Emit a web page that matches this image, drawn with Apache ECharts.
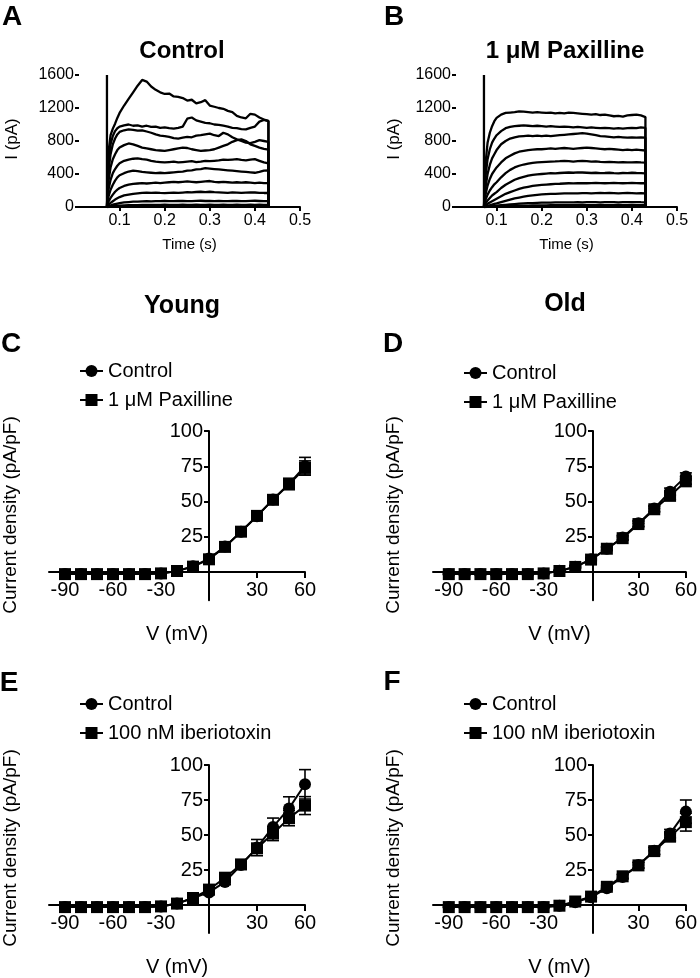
<!DOCTYPE html>
<html>
<head>
<meta charset="utf-8">
<script src="https://cdn.jsdelivr.net/npm/echarts@6.0.0/dist/echarts.min.js"></script>
<style>
html,body{margin:0;padding:0;background:#fff;}
#c{width:700px;height:978px;}
</style>
</head>
<body>
<div id="c"></div>
<script>
// ---------- Panel A/B: current traces ----------
const onTime = 0.072;
const offTime = 0.43;
const traceTime = [0.072,0.075,0.08,0.085,0.09,0.095,0.10,0.11,0.12,0.13,0.14,0.15,0.16,0.17,0.18,0.19,0.20,0.21,0.22,0.23,0.24,0.25,0.26,0.27,0.28,0.29,0.30,0.31,0.32,0.33,0.34,0.35,0.36,0.37,0.38,0.39,0.40,0.41,0.42,0.43];
const timeTicks = [0.1,0.2,0.3,0.4,0.5];
const currentTicks = [0,400,800,1200,1600];

const controlTraces = [
  [0,650,870,950,1010,1080,1140,1230,1310,1390,1470,1540,1520,1460,1420,1390,1370,1375,1340,1335,1320,1290,1300,1255,1270,1295,1230,1215,1200,1190,1165,1150,1105,1085,1075,1130,1120,1085,1060,1045],
  [0,500,760,860,920,955,975,990,1000,985,990,975,985,970,975,960,965,955,950,960,975,1070,1085,1050,1035,1020,1015,1000,995,985,975,960,955,945,940,960,975,1035,1055,1040],
  [0,420,640,760,830,880,910,930,940,935,925,930,915,900,880,865,860,850,835,830,840,850,845,865,870,880,890,870,860,900,880,845,820,800,780,775,790,810,800,790],
  [0,300,480,580,640,690,720,750,770,760,740,720,710,700,690,685,680,690,700,710,720,715,700,690,680,685,690,700,720,740,760,790,810,820,800,760,740,720,705,695],
  [0,200,330,410,460,500,530,560,575,585,590,580,575,560,550,545,540,545,550,540,545,550,555,545,550,560,555,560,565,575,570,575,580,570,565,575,580,560,540,530],
  [0,120,210,270,320,360,385,410,430,440,435,425,420,415,410,415,410,415,420,425,430,440,445,455,460,470,465,460,455,450,445,440,435,430,425,420,415,425,440,445],
  [0,60,110,150,185,210,230,255,270,280,285,290,285,290,295,290,295,300,305,300,305,310,305,300,305,310,315,305,300,305,300,295,300,295,300,295,290,295,290,290],
  [0,25,50,70,90,105,120,140,150,160,165,170,175,170,175,170,168,172,175,170,175,180,178,182,185,180,185,180,178,175,172,178,175,170,175,178,176,172,170,170],
  [0,8,18,28,36,42,48,55,60,64,66,68,70,68,72,70,74,72,70,73,75,72,70,74,76,73,75,72,74,70,72,75,73,70,72,74,76,73,70,72],
  [0,3,6,10,13,15,17,19,21,22,23,24,25,24,26,25,27,25,24,26,28,25,26,27,25,26,28,26,25,27,26,25,27,26,25,27,26,28,26,25],
  [0,1,2,3,3,4,4,5,5,4,5,6,5,4,6,5,5,6,4,5,6,5,4,5,6,5,5,4,6,5,5,6,4,5,6,5,5,4,6,5]
];
const paxillineTraces = [
  [0,500,780,900,980,1040,1080,1120,1140,1145,1150,1160,1155,1150,1145,1150,1145,1140,1145,1135,1140,1135,1145,1140,1135,1130,1125,1120,1125,1115,1120,1110,1100,1105,1095,1110,1115,1120,1110,1090],
  [0,350,580,700,780,830,870,920,955,970,980,985,990,985,980,985,980,975,980,975,970,975,970,965,970,965,960,965,960,955,960,955,950,955,950,955,960,955,965,960],
  [0,220,400,510,590,640,690,760,800,830,845,855,860,865,860,865,860,865,860,865,870,875,880,885,890,895,890,880,870,860,855,850,845,850,845,840,845,840,845,840],
  [0,140,260,340,400,440,480,540,590,620,650,670,680,690,695,700,700,705,710,705,710,715,710,705,710,715,720,715,710,705,700,705,700,695,690,695,690,695,690,685],
  [0,80,150,200,240,275,300,360,410,450,480,500,515,525,535,540,545,548,550,552,555,560,555,550,555,558,555,550,552,548,545,548,545,540,545,542,540,545,540,538],
  [0,40,80,110,140,160,180,230,270,300,330,350,365,380,390,395,400,405,410,408,412,415,418,415,420,418,415,412,415,410,412,415,410,408,412,410,415,412,410,408],
  [0,20,40,55,70,85,100,130,160,180,200,220,235,245,255,262,268,272,276,280,282,285,288,286,288,290,288,290,292,290,288,290,292,290,288,290,292,290,288,290],
  [0,8,15,22,30,38,45,60,75,90,105,115,125,135,142,148,152,156,158,160,162,164,165,166,165,167,168,166,168,170,168,170,168,166,168,170,168,166,168,165],
  [0,2,5,8,11,14,17,22,27,32,36,40,43,46,48,50,52,53,54,55,56,57,56,57,58,57,58,59,58,57,58,59,58,57,58,59,58,60,58,57],
  [0,1,2,3,4,5,6,8,10,12,13,15,16,17,18,19,20,20,21,21,22,22,23,22,23,24,23,22,23,24,23,22,23,24,23,22,24,23,22,23],
  [0,0,1,1,1,2,2,2,3,3,3,4,4,4,4,5,5,5,4,5,5,6,5,5,4,5,6,5,5,4,5,5,6,5,5,4,5,5,6,5]
];
const transientPeak = 1600;

// ---------- Panels C-F: I-V curves ----------
const voltage = [-90,-80,-70,-60,-50,-40,-30,-20,-10,0,10,20,30,40,50,60];
const vTicks = [-90,-60,-30,30,60];
const densityTicks = [25,50,75,100];

const youngControlPax = [-1.5,-1.5,-1.5,-1.5,-1.5,-1.5,-1,0.7,4,9.5,18,28.5,39.5,51.5,62.5,75];
const youngControlPaxSem = [0.3,0.3,0.3,0.3,0.3,0.3,0.3,0.4,0.8,1.2,1.5,2,2.5,3,4,6.3];
const youngPaxilline = [-1.5,-1.5,-1.5,-1.5,-1.5,-1.5,-1,0.7,3.8,9,17.8,28.6,39.8,51.2,62.2,73.8];
const youngPaxillineSem = [0.3,0.3,0.3,0.3,0.3,0.3,0.3,0.4,0.8,1.2,1.5,2,2.5,3,3.5,5];

const oldControlPax = [-1.5,-1.5,-1.5,-1.5,-1.5,-1.5,-1,0.8,3.8,9,16.5,24.5,34.5,45,57,67.8];
const oldControlPaxSem = [0.3,0.3,0.3,0.3,0.3,0.3,0.3,0.4,0.8,1,1.2,1.5,2,2,2.5,2.5];
const oldPaxilline = [-1.5,-1.5,-1.5,-1.5,-1.5,-1.5,-1,0.7,3.6,8.8,16.5,24,34,44.5,54,64.3];
const oldPaxillineSem = [0.3,0.3,0.3,0.3,0.3,0.3,0.3,0.4,0.8,1,1.2,1.5,2,2,2.5,2];

const youngControlIbtx = [-1.5,-1.5,-1.5,-1.5,-1.5,-1.5,-1,1,5,9,16.5,28.5,41,55.8,69,86.2];
const youngControlIbtxSem = [0.3,0.3,0.3,0.3,0.3,0.3,0.3,0.5,1,1.5,2,3,5.8,6.3,8.3,10.5];
const youngIberiotoxin = [-1.5,-1.5,-1.5,-1.5,-1.5,-1.5,-1,1,5,11,19.5,29,40.5,51,62,71];
const youngIberiotoxinSem = [0.3,0.3,0.3,0.3,0.3,0.3,0.3,0.5,1,1.5,2,2.5,3,5,5.4,6.4];

const oldControlIbtx = [-1.5,-1.5,-1.5,-1.5,-1.5,-1.5,-1.5,-0.5,2,5.5,12,20,28.5,38.7,51,66.7];
const oldControlIbtxSem = [0.3,0.3,0.3,0.3,0.3,0.3,0.3,0.4,0.6,0.8,1,1.5,2,2.5,3,8.3];
const oldIberiotoxin = [-1.5,-1.5,-1.5,-1.5,-1.5,-1.5,-1.5,-0.5,2.5,6,13,20.5,28.3,38.5,48.8,59.2];
const oldIberiotoxinSem = [0.3,0.3,0.3,0.3,0.3,0.3,0.3,0.4,0.6,0.8,1,1.5,2,2.5,3,6.4];

// ---------- build ----------
const FONT = '"Liberation Sans", Arial, Helvetica, sans-serif';
const BLACK = '#000';
const axisLineStyle = {color: BLACK, width: 2};

const chart = echarts.init(document.getElementById('c'), null, {renderer: 'canvas'});

// I-V grids: V from -100..60, density -20..100
const ivGrid = {vMin: -100, vMax: 60, dMin: -20, dMax: 100};
const grids = [
  {left: 79, top: 75, width: 221, height: 132},
  {left: 456, top: 75, width: 221, height: 132},
  {left: 49, top: 431, width: 256, height: 169.2},
  {left: 433, top: 431, width: 256, height: 169.2},
  {left: 49, top: 765, width: 256, height: 168},
  {left: 433, top: 765, width: 256, height: 168}
];

const xAxes = [];
const yAxes = [];
for (let g = 0; g < 2; g++) {
  xAxes.push({
    gridIndex: g, type: 'value', min: 0.01, max: 0.5,
    axisLine: {onZero: false, lineStyle: axisLineStyle},
    axisTick: {customValues: timeTicks, length: 4, lineStyle: axisLineStyle},
    axisLabel: {customValues: timeTicks, fontSize: 16, color: BLACK, fontFamily: FONT, margin: 6},
    splitLine: {show: false},
    name: 'Time (s)', nameLocation: 'middle', nameGap: 30,
    nameTextStyle: {fontSize: 15, color: BLACK, fontFamily: FONT}
  });
  yAxes.push({
    gridIndex: g, type: 'value', min: 0, max: 1600,
    axisLine: {show: false},
    axisTick: {show: true, customValues: currentTicks, length: 4, lineStyle: axisLineStyle},
    axisLabel: {customValues: currentTicks, fontSize: 16, color: BLACK, fontFamily: FONT, margin: 5,
      formatter: v => String(v)},
    splitLine: {show: false}
  });
}
for (let g = 2; g < 6; g++) {
  const gr = grids[g];
  // axes cross at V = 0 and density = 0 (placed through the axis offset)
  const yShift = gr.width * (0 - ivGrid.vMin) / (ivGrid.vMax - ivGrid.vMin);
  const xShift = gr.height * (0 - ivGrid.dMin) / (ivGrid.dMax - ivGrid.dMin);
  xAxes.push({
    gridIndex: g, type: 'value', min: ivGrid.vMin, max: ivGrid.vMax, position: 'bottom',
    offset: -xShift,
    axisLine: {onZero: false, lineStyle: axisLineStyle},
    axisTick: {customValues: vTicks, length: 6, lineStyle: axisLineStyle},
    axisLabel: {customValues: vTicks, fontSize: 20, color: BLACK, fontFamily: FONT, margin: 8},
    splitLine: {show: false},
    name: 'V (mV)', nameLocation: 'middle', nameGap: 52,
    nameTextStyle: {fontSize: 20, color: BLACK, fontFamily: FONT}
  });
  yAxes.push({
    gridIndex: g, type: 'value', min: ivGrid.dMin, max: ivGrid.dMax, position: 'left',
    offset: -yShift,
    axisLine: {onZero: false, lineStyle: axisLineStyle},
    axisTick: {customValues: densityTicks, length: 5, lineStyle: axisLineStyle},
    axisLabel: {customValues: densityTicks, fontSize: 20, color: BLACK, fontFamily: FONT, margin: 6},
    splitLine: {show: false}
  });
}

const series = [];
function addTraces(traces, idx) {
  series.push({
    type: 'line', xAxisIndex: idx, yAxisIndex: idx, symbol: 'none', silent: true,
    lineStyle: {color: BLACK, width: 2.3}, z: 3,
    data: [[onTime, 0], [onTime, transientPeak]]
  });
  traces.forEach(vals => {
    const d = traceTime.map((t, i) => [t, vals[i]]);
    d.push([offTime, 0]);
    series.push({
      type: 'line', xAxisIndex: idx, yAxisIndex: idx, symbol: 'none', silent: true,
      lineStyle: {color: BLACK, width: 2.3}, z: 3, data: d
    });
  });
}
addTraces(controlTraces, 0);
addTraces(paxillineTraces, 1);

function errorSeries(idx, means, sems) {
  return {
    type: 'custom', xAxisIndex: idx, yAxisIndex: idx, silent: true, z: 2,
    data: voltage.map((v, i) => [v, means[i] - sems[i], means[i] + sems[i]]),
    renderItem: function (params, api) {
      const x = api.value(0);
      const lo = api.coord([x, api.value(1)]);
      const hi = api.coord([x, api.value(2)]);
      const cw = 6;
      const st = {stroke: BLACK, lineWidth: 1.6};
      return {type: 'group', children: [
        {type: 'line', shape: {x1: lo[0], y1: lo[1], x2: hi[0], y2: hi[1]}, style: st},
        {type: 'line', shape: {x1: hi[0] - cw, y1: hi[1], x2: hi[0] + cw, y2: hi[1]}, style: st},
        {type: 'line', shape: {x1: lo[0] - cw, y1: lo[1], x2: lo[0] + cw, y2: lo[1]}, style: st}
      ]};
    }
  };
}
function ivSeries(idx, name, symbol, means, z) {
  return {
    type: 'line', name: name, xAxisIndex: idx, yAxisIndex: idx,
    symbol: symbol, symbolSize: 12, showAllSymbol: true, z: z,
    lineStyle: {color: BLACK, width: 2}, itemStyle: {color: BLACK, borderWidth: 0},
    data: voltage.map((v, i) => [v, means[i]])
  };
}
const ivPanels = [
  [2, 'Control', youngControlPax, youngControlPaxSem, '1 μM Paxilline', youngPaxilline, youngPaxillineSem],
  [3, 'Control', oldControlPax, oldControlPaxSem, '1 μM Paxilline', oldPaxilline, oldPaxillineSem],
  [4, 'Control', youngControlIbtx, youngControlIbtxSem, '100 nM iberiotoxin', youngIberiotoxin, youngIberiotoxinSem],
  [5, 'Control', oldControlIbtx, oldControlIbtxSem, '100 nM iberiotoxin', oldIberiotoxin, oldIberiotoxinSem]
];
ivPanels.forEach(p => {
  series.push(errorSeries(p[0], p[2], p[3]));
  series.push(errorSeries(p[0], p[5], p[6]));
  series.push(ivSeries(p[0], p[1], 'circle', p[2], 4));
  series.push(ivSeries(p[0], p[4], 'rect', p[5], 5));
});

function legendAt(left, top, names) {
  return {
    left: left, top: top, orient: 'vertical', data: names, selectedMode: false,
    itemWidth: 23, itemHeight: 15, itemGap: 9,
    textStyle: {fontSize: 20, color: BLACK, fontFamily: FONT}
  };
}

function txt(x, y, s, size, bold, rot) {
  return {
    type: 'text', x: x, y: y, rotation: rot || 0, silent: true,
    style: {text: s, fill: BLACK, font: (bold ? 'bold ' : '') + size + 'px ' + FONT,
      align: 'center', verticalAlign: 'middle'}
  };
}
const graphics = [
  txt(12, 17, 'A', 28, true),
  txt(394, 17, 'B', 28, true),
  txt(182, 51, 'Control', 24, true),
  txt(565, 51, '1 μM Paxilline', 24, true),
  txt(12, 139, 'I (pA)', 17, false, Math.PI / 2),
  txt(394, 139, 'I (pA)', 17, false, Math.PI / 2),
  txt(182, 306, 'Young', 25, true),
  txt(565, 304, 'Old', 25, true),
  txt(11, 344, 'C', 28, true),
  txt(393, 344, 'D', 28, true),
  txt(9, 683, 'E', 28, true),
  txt(392, 682, 'F', 28, true),
  txt(11, 515, 'Current density (pA/pF)', 19, false, Math.PI / 2),
  txt(394, 515, 'Current density (pA/pF)', 19, false, Math.PI / 2),
  txt(11, 848, 'Current density (pA/pF)', 19, false, Math.PI / 2),
  txt(394, 848, 'Current density (pA/pF)', 19, false, Math.PI / 2)
];

chart.setOption({
  animation: false,
  backgroundColor: '#fff',
  textStyle: {fontFamily: FONT},
  grid: grids,
  xAxis: xAxes,
  yAxis: yAxes,
  legend: [
    legendAt(74, 356, ['Control', '1 μM Paxilline']),
    legendAt(458, 358, ['Control', '1 μM Paxilline']),
    legendAt(74, 689, ['Control', '100 nM iberiotoxin']),
    legendAt(458, 689, ['Control', '100 nM iberiotoxin'])
  ],
  graphic: graphics,
  series: series
});
</script>
</body>
</html>
